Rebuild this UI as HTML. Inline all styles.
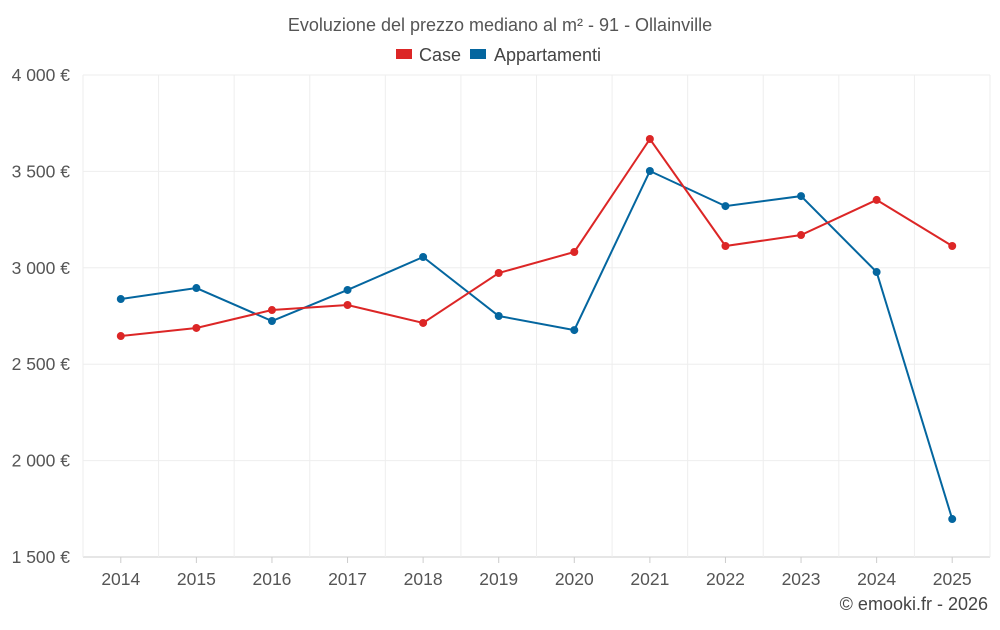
<!DOCTYPE html>
<html><head><meta charset="utf-8"><style>
body{margin:0;background:#fff;font-family:"Liberation Sans",sans-serif}
svg text{font-family:"Liberation Sans",sans-serif}
</style></head><body>
<svg id="c" width="1000" height="625">
<text x="500" y="31" text-anchor="middle" font-size="18" fill="#555">Evoluzione del prezzo mediano al m² - 91 - Ollainville</text>
<g>
<g><rect x="396" y="49" width="16" height="10" fill="#dc2626"/><text x="419" y="61" font-size="18" fill="#444">Case</text></g>
<g><rect x="470" y="49" width="16" height="10" fill="#04669f"/><text x="494" y="61" font-size="18" fill="#444">Appartamenti</text></g>
</g>
<g id="grid"></g><g id="axes"></g><g id="series"></g>
<text x="988" y="610" text-anchor="end" font-size="18" fill="#444">© emooki.fr - 2026</text>
</svg>
<script>
const years=['2014','2015','2016','2017','2018','2019','2020','2021','2022','2023','2024','2025'];
const caseVals=[2646,2688,2781,2807,2714,2973,3082,3668,3113,3170,3352,3113];
const appVals=[2838,2895,2724,2885,3056,2750,2677,3502,3320,3372,2978,1697];
const yTicks=[1500,2000,2500,3000,3500,4000];
const yTickLabels=['1 500 €','2 000 €','2 500 €','3 000 €','3 500 €','4 000 €'];
const L=83,R=990,T=75,B=557,yMin=1500,yMax=4000;
const band=(R-L)/years.length;
const x=i=>L+band*(i+0.5);
const y=v=>B-(v-yMin)/(yMax-yMin)*(B-T);
const NS='http://www.w3.org/2000/svg';
function mk(t,a,p){const e=document.createElementNS(NS,t);for(const k in a)e.setAttribute(k,a[k]);p.appendChild(e);return e;}
const g=document.getElementById('grid'),ax=document.getElementById('axes'),s=document.getElementById('series');
yTicks.forEach((v,i)=>{
 const l=mk('line',{x1:L,x2:R,y1:y(v),y2:y(v),stroke:i==0?'#ccc':'#eee'},g);
 
 
 const t=mk('text',{x:70,y:y(v)+6,'text-anchor':'end','font-size':17.5,fill:'#555'},ax);
 t.textContent=yTickLabels[i];
 
 
});
for(let i=0;i<=years.length;i++){
 const l=mk('line',{x1:L+band*i,x2:L+band*i,y1:T,y2:B,stroke:'#eee'},g);
 
 
}
years.forEach((yr,i)=>{
 const k=mk('line',{x1:x(i),x2:x(i),y1:B,y2:B+6,stroke:'#ccc'},ax);
 
 
 const t=mk('text',{x:x(i),y:585,'text-anchor':'middle','font-size':17.5,fill:'#555'},ax);
 t.textContent=yr;
 
 
});
function series(vals,col,name){
 const p=mk('polyline',{points:vals.map((v,i)=>x(i)+','+y(v)).join(' '),fill:'none',stroke:col,'stroke-width':2},s);
 
 
 vals.forEach((v,i)=>{
  const c=mk('circle',{cx:x(i),cy:y(v),r:4,fill:col},s);
  
  
 });
}
series(appVals,'#04669f','appartamenti');
series(caseVals,'#dc2626','case');
</script>
</body></html>
